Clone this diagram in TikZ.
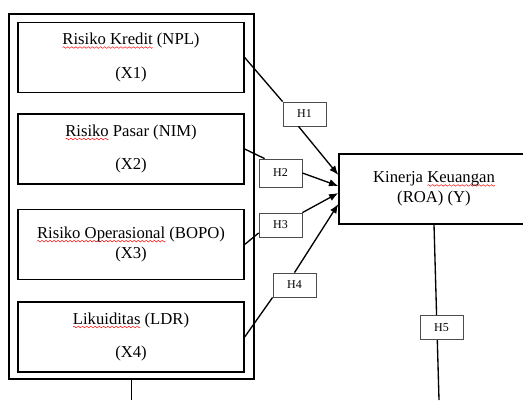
\documentclass[tikz,border=0pt]{standalone}
\usepackage{fontspec}
\setmainfont{Liberation Serif}
\usetikzlibrary{arrows.meta,calc}

% garis bergelombang merah di bawah kata
\newcommand{\gelombang}{\tikz[baseline=0pt]{\useasboundingbox (0pt,-1pt) rectangle (3pt,1pt);
  \draw [red, line width=0.35pt] (0pt,0pt) sin (0.75pt,0.6pt) cos (1.5pt,0pt) sin (2.25pt,-0.6pt) cos (3pt,0pt);}}
\newcommand{\salah}[1]{\setbox0\hbox{#1}\rlap{\raisebox{-2pt}[0pt][0pt]{\hbox to \wd0{\xleaders\hbox{\gelombang}\hfil}}}\box0\relax}

\tikzset{
  kotak/.style={draw, line width=1pt, minimum width=169.5pt, minimum height=52.5pt,
    inner sep=0pt, align=center, font=\fontsize{12.5}{15}\selectfont},
  hipo/.style={draw=black!70, line width=0.6pt, fill=white, minimum width=32.25pt,
    minimum height=18pt, inner sep=0pt, font=\fontsize{9}{10}\selectfont},
  garis/.style={line width=1pt},
  panah/.style={line width=1pt, -{Latex[length=7pt,width=5.5pt]}}
}

\begin{document}
\begin{tikzpicture}[x=0.75pt,y=-0.75pt]
\useasboundingbox (0,0) rectangle (523,400);
% kotak luar
\node [draw, line width=1.2pt, minimum width=183.75pt, minimum height=273.75pt] (luar) at (131.5,196.5) {};
% variabel X
\node [kotak] (x1) at (131,57.5) {\salah{Risiko Kredit} (NPL)\\[10pt](X1)};
\node [kotak] (x2) at (131,149) {\salah{Risiko} Pasar (NIM)\\[10pt](X2)};
\node [kotak] (x3) at (131,244.5) {\salah{Risiko Operasional} (BOPO)\\(X3)};
\node [kotak] (x4) at (131,337) {\salah{Likuiditas} (LDR)\\[10pt](X4)};
% variabel Y
\node [kotak, minimum width=142.5pt] (y) at (434,189) {Kinerja \salah{Keuangan}\\(ROA) (Y)};
% hipotesis
\node [hipo] (h1) at (304.5,114) {H1};
\node [hipo, minimum height=21pt] (h2) at (280.5,173) {H2};
\node [hipo] (h3) at (280.5,225) {H3};
\node [hipo] (h4) at (294.5,285) {H4};
% garis X ke Y
\draw [garis] (x1.east) -- (h1.north west);
\draw [panah] ($(h1.south)+(-6,0)$) -- ($(y.west)+(0,-14)$);
\draw [garis] (x2.east) -- ($(h2.north west)+(6,0)$);
\draw [panah] (h2.east) -- ($(y.west)+(0,-3)$);
\draw [garis] (x3.east) -- ($(h3.west)+(0,8)$);
\draw [panah] (h3.north east) -- ($(y.west)+(0,4)$);
\draw [garis] (x4.east) -- (h4.south west);
\draw [panah] (h4.north) -- ($(y.west)+(0,15)$);
% garis ke bawah
\coordinate (ujung1) at (131.5,400);
\coordinate (ujung2) at (439,400);
\draw [garis] (luar.south) -- (ujung1);
\draw [garis] (y.south) -- (ujung2);
\node [hipo] (h5) at (441.5,327.5) {H5};
\end{tikzpicture}
\end{document}
